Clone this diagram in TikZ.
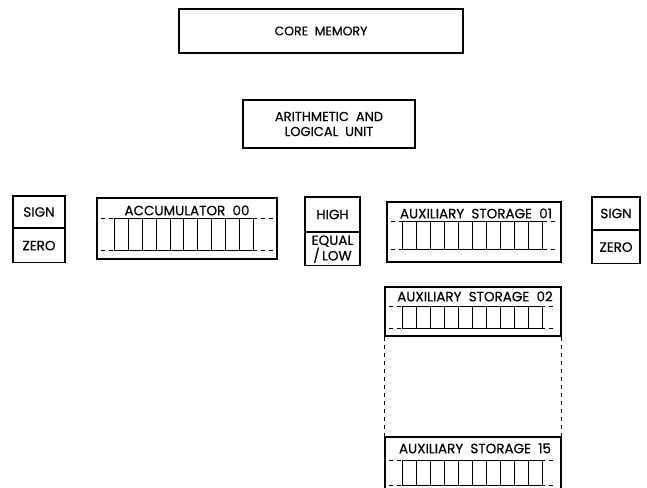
\documentclass[tikz,border=0pt]{standalone}
\usepackage{fontspec}
\setmainfont{Poppins}[FakeBold=0.4]
\usetikzlibrary{calc}

\tikzset{
  unit/.style={draw,line width=1.2pt,inner sep=0pt},
  cell/.style={draw,line width=1pt,inner sep=0pt,minimum width=13.9},
  lbl/.style={font=\fontsize{13.5}{15}\selectfont,inner sep=0pt},
  guide/.style={line width=1pt,dash pattern=on 4pt off 4pt},
}

\begin{document}
\begin{tikzpicture}[x=1pt,y=-1pt]
\clip (0,0) rectangle (647,487);
\coordinate (O) at (0,0);
% memory and arithmetic unit
\node[unit,minimum width=284,minimum height=44] (core) at ($(O)+(321,31)$) {};
\node[lbl,font=\fontsize{12.5}{15}\selectfont] (core-t) at (core.center) {CORE\ \ MEMORY};
\node[unit,minimum width=172,minimum height=48] (alu) at ($(O)+(329,124)$) {};
\node[lbl,align=center,font=\fontsize{13}{15}\selectfont] (alu-t) at (alu.center) {ARITHMETIC\ \ AND\\LOGICAL\ \ UNIT};
% indicators
\node[unit,minimum width=52,minimum height=32] (sgnL) at ($(O)+(39,212)$) {};
\node[unit,minimum width=52,minimum height=34] (zroL) at ($(sgnL.south)+(0,17)$) {};
\node[lbl] (sgnL-t) at (sgnL.center) {SIGN};
\node[lbl] (zroL-t) at (zroL.center) {ZERO};
\node[unit,minimum width=55,minimum height=35] (high) at ($(O)+(332.5,214.5)$) {};
\node[unit,minimum width=55,minimum height=33] (eqlo) at ($(high.south)+(0,16.5)$) {};
\node[lbl] (high-t) at (high.center) {HIGH};
\node[lbl,align=center,font=\fontsize{13.5}{12.5}\selectfont] (eqlo-t) at (eqlo.center) {EQUAL\\/\,LOW};
\node[unit,minimum width=48,minimum height=33] (sgnR) at ($(O)+(616,213.5)$) {};
\node[unit,minimum width=48,minimum height=33] (zroR) at ($(sgnR.south)+(0,16.5)$) {};
\node[lbl] (sgnR-t) at (sgnR.center) {SIGN};
\node[lbl] (zroR-t) at (zroR.center) {ZERO};
% accumulator
\node[unit,minimum width=180,minimum height=61] (acc) at ($(O)+(187,228.5)$) {};
\node[lbl] (acc-t) at ($(acc.north)+(0,13)$) {ACCUMULATOR\ \ 00};
\draw[guide] ($(acc.west)+(5,-10.5)$) -- ($(acc.east)+(-5,-10.5)$);
\draw[guide] ($(acc.west)+(5,21.5)$) -- ($(acc.east)+(-5,21.5)$);
\foreach \i in {1,...,10}
  \node[cell,minimum height=32] (acc-\i) at ($(acc.west)+(18+13.9*\i-6.95,5.5)$) {};
% auxiliary storage
\node[unit,minimum width=174,minimum height=60] (aux01) at ($(O)+(474,232)$) {};
\node[lbl] (aux01-t) at ($(aux01.north)+(2,12)$) {AUXILIARY\ \ STORAGE\ \ 01};
\draw[guide] ($(aux01.west)+(5,-11)$) -- ($(aux01.east)+(-5,-11)$);
\draw[guide] ($(aux01.west)+(5,17)$) -- ($(aux01.east)+(-5,17)$);
\foreach \i in {1,...,10}
  \node[cell,minimum height=28] (aux01-\i) at ($(aux01.west)+(16+14*\i-7,3)$) {};
\node[unit,minimum width=176,minimum height=49] (aux02) at ($(O)+(473,311.5)$) {};
\node[lbl] (aux02-t) at ($(aux02.north)+(2,10)$) {AUXILIARY\ \ STORAGE\ \ 02};
\draw[guide] ($(aux02.west)+(5,-5.5)$) -- ($(aux02.east)+(-5,-5.5)$);
\draw[guide] ($(aux02.west)+(5,16.5)$) -- ($(aux02.east)+(-5,16.5)$);
\foreach \i in {1,...,10}
  \node[cell,minimum height=22] (aux02-\i) at ($(aux02.west)+(18+14*\i-7,5.5)$) {};
\node[unit,minimum width=176,minimum height=73] (aux15) at ($(O)+(473,473.5)$) {};
\node[lbl] (aux15-t) at ($(aux15.north)+(2,12)$) {AUXILIARY\ \ STORAGE\ \ 15};
\draw[guide] ($(aux15.west)+(5,-13.5)$) -- ($(aux15.east)+(-5,-13.5)$);
\draw[guide] ($(aux15.west)+(5,11.5)$) -- ($(aux15.east)+(-5,11.5)$);
\foreach \i in {1,...,10}
  \node[cell,minimum height=25] (aux15-\i) at ($(aux15.west)+(18+14*\i-7,-1)$) {};
\draw[guide] (aux02.south west) -- (aux15.north west);
\draw[guide] (aux02.south east) -- (aux15.north east);
\end{tikzpicture}
\end{document}
